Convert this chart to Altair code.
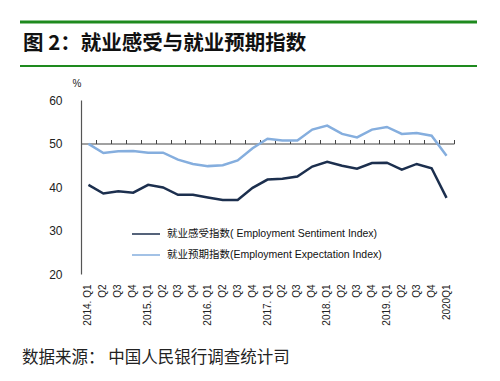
import altair as alt
import pandas as pd
import json

quarter_labels = ["2014. Q1", "Q2", "Q3", "Q4",
                  "2015. Q1", "Q2", "Q3", "Q4",
                  "2016. Q1", "Q2", "Q3", "Q4",
                  "2017. Q1", "Q2", "Q3", "Q4",
                  "2018. Q1", "Q2", "Q3", "Q4",
                  "2019. Q1", "Q2", "Q3", "Q4",
                  "2020Q1"]
sentiment = [40.5, 38.5, 39.0, 38.7, 40.5, 39.9, 38.2, 38.2, 37.6, 37.0, 37.0, 39.8,
             41.7, 41.9, 42.4, 44.7, 45.8, 44.9, 44.2, 45.5, 45.6, 44.0, 45.3, 44.3, 37.5]
expectation = [49.9, 47.8, 48.2, 48.3, 47.9, 47.9, 46.3, 45.3, 44.8, 45.0, 46.1, 48.9,
               51.1, 50.7, 50.7, 53.2, 54.1, 52.2, 51.4, 53.2, 53.8, 52.2, 52.4, 51.8, 47.2]
series_names = ["就业感受指数( Employment Sentiment Index)",
                "就业预期指数(Employment Expectation  Index)"]
series_colors = ["#1c2f4e", "#85aede"]

title_text = "图 2：就业感受与就业预期指数"
source_text = "数据来源： 中国人民银行调查统计司"

rows = []
for i in range(len(quarter_labels)):
    rows.append({"idx": i, "series": series_names[0], "value": sentiment[i]})
    rows.append({"idx": i, "series": series_names[1], "value": expectation[i]})
df = pd.DataFrame(rows)

W, H = 373, 174
FONT = "Liberation Sans, Noto Sans CJK SC"
label_expr = json.dumps(quarter_labels) + "[datum.value]"

xscale = alt.Scale(type="band", paddingInner=0, paddingOuter=0)
yscale = alt.Scale(domain=[20, 60])

lines = alt.Chart(df).mark_line(strokeWidth=2.5).encode(
    x=alt.X("idx:O", scale=xscale, bandPosition=0.5,
            axis=alt.Axis(orient="bottom", title=None, domain=False, ticks=False,
                          labelAngle=270, labelPadding=10, labelFontSize=10,
                          labelFont=FONT, labelColor="#222", labelExpr=label_expr)),
    y=alt.Y("value:Q", scale=yscale,
            axis=alt.Axis(values=[20, 30, 40, 50, 60], title=None, grid=False, ticks=False,
                          domainColor="#555", domainWidth=1.2, labelPadding=19,
                          labelFontSize=12, labelFont=FONT, labelColor="#222")),
    color=alt.Color("series:N", scale=alt.Scale(domain=series_names, range=series_colors),
                    legend=alt.Legend(title=None, orient="none", legendX=50, legendY=119,
                                      symbolType="stroke", symbolSize=784, symbolStrokeWidth=1.5,
                                      labelFontSize=10.5, labelFont=FONT, labelColor="#111",
                                      rowPadding=0, labelLimit=400, labelOffset=6)),
)

tick_axis = alt.Chart(df).mark_line(opacity=0).encode(
    x=alt.X("idx:O", scale=xscale, bandPosition=0.5,
            axis=alt.Axis(orient="top", offset=-43.5, title=None, labels=False,
                          tickBand="extent", tickSize=4, tickColor="#444",
                          domainColor="#444", domainWidth=1.2)),
    y=alt.Y("value:Q", scale=yscale),
    detail="series:N",
)

one = pd.DataFrame({"a": [0]})
green = "#1e8a1e"
rule_top = alt.Chart(one).mark_rule(color=green, strokeWidth=3).encode(
    x=alt.value(-61), x2=alt.value(396), y=alt.value(-78))
rule_mid = alt.Chart(one).mark_rule(color=green, strokeWidth=2).encode(
    x=alt.value(-61), x2=alt.value(396), y=alt.value(-34))
rule_bot = alt.Chart(one).mark_rule(color=green, strokeWidth=3).encode(
    x=alt.value(-61), x2=alt.value(396), y=alt.value(278))

title = alt.Chart(one).mark_text(align="left", baseline="middle", fontSize=20.5,
                                 fontWeight="bold", font="Noto Sans CJK SC",
                                 color="#111").encode(
    x=alt.value(-58), y=alt.value(-56), text=alt.value(title_text))
source = alt.Chart(one).mark_text(align="left", baseline="middle", fontSize=16.5,
                                  font="Noto Sans CJK SC", color="#222").encode(
    x=alt.value(-59), y=alt.value(258), text=alt.value(source_text))
pct = alt.Chart(one).mark_text(align="center", baseline="middle", fontSize=10,
                               font=FONT, color="#222").encode(
    x=alt.value(-4), y=alt.value(-16), text=alt.value("%"))

chart = alt.layer(lines, tick_axis, rule_top, rule_mid, rule_bot, title, source, pct).resolve_axis(
    x="independent"
).properties(
    width=W, height=H,
    autosize=alt.AutoSizeParams(type="none"),
    padding={"left": 73, "top": 92, "right": 38, "bottom": 99},
).configure_view(stroke=None)

chart.save("out.html", embed_options={"renderer": "svg", "actions": False})
